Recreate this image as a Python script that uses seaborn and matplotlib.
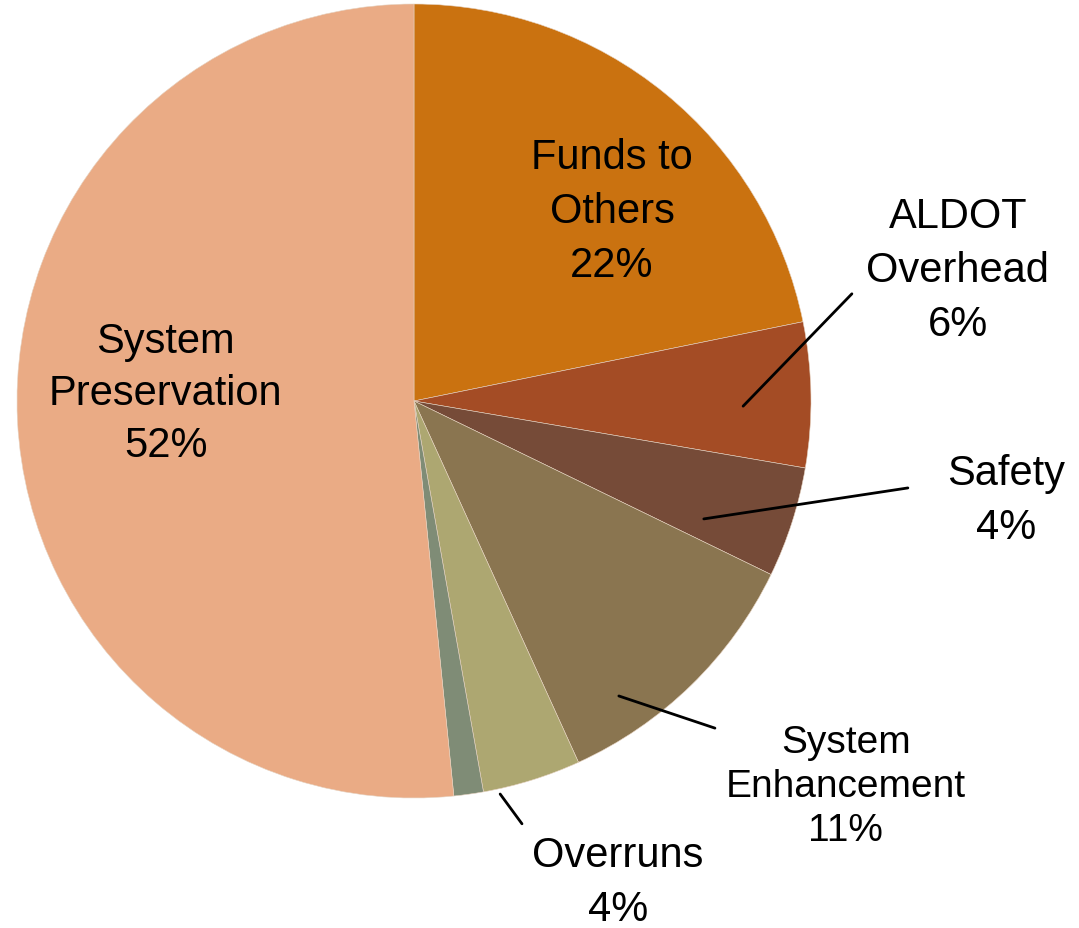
# ALDOT budget breakdown - pie chart
import matplotlib
matplotlib.use("Agg")
import matplotlib.pyplot as plt
import seaborn as sns

sns.set_style("white")
plt.rcParams['font.family'] = ['Liberation Sans', 'DejaVu Sans']

# Data (clockwise from 12 o'clock)
categories = ["Funds to\nOthers", "ALDOT\nOverhead", "Safety", "System\nEnhancement",
              "Overruns", "Other", "System\nPreservation"]
shares = [21.8, 5.9, 4.5, 11.0, 4.0, 1.2, 51.6]
pct_labels = ["22%", "6%", "4%", "11%", "4%", "", "52%"]
colors = ["#CA7210", "#A44C25", "#764B38", "#8A7550", "#ADA771", "#7F8C76", "#EAAB85"]

fig = plt.figure(figsize=(10.79, 9.29), dpi=100)
ax = fig.add_axes([0, 0, 1, 1])

ax.pie(shares, colors=colors, startangle=90, counterclock=False, radius=1,
       wedgeprops=dict(edgecolor="#e6d2c0", linewidth=0.4))

# axis limits so that the pie sits where it does in the original
ax.set_xlim(-414 / 397, (1079 - 414) / 397)
ax.set_ylim(-(929 - 402) / 397, 402 / 397)
ax.set_aspect("equal")
ax.axis("off")

# label positions (text centre, leader line start/end) in pie-radius units
label_pos = {
    0: ((0.499, 0.479), None, 30, 1.46),
    1: ((1.370, 0.330), ((0.829, -0.013), (1.103, 0.270)), 30, 1.46),
    2: ((1.491, -0.249), ((0.730, -0.297), (1.244, -0.219)), 30, 1.46),
    3: ((1.088, -0.970), ((0.516, -0.743), (0.758, -0.824)), 28, 1.3),
    4: ((0.514, -1.212), ((0.217, -0.990), (0.272, -1.065)), 30, 1.46),
    6: ((-0.625, 0.020), None, 30, 1.4),
}

for i, (txt_xy, line, fs, ls) in label_pos.items():
    text = categories[i] + "\n" + pct_labels[i]
    ax.text(txt_xy[0], txt_xy[1], text, ha="center", va="center",
            fontsize=fs, linespacing=ls, color="black")
    if line is not None:
        ax.plot([line[0][0], line[1][0]], [line[0][1], line[1][1]],
                color="black", linewidth=2)

fig.savefig("out.png", dpi=100)
